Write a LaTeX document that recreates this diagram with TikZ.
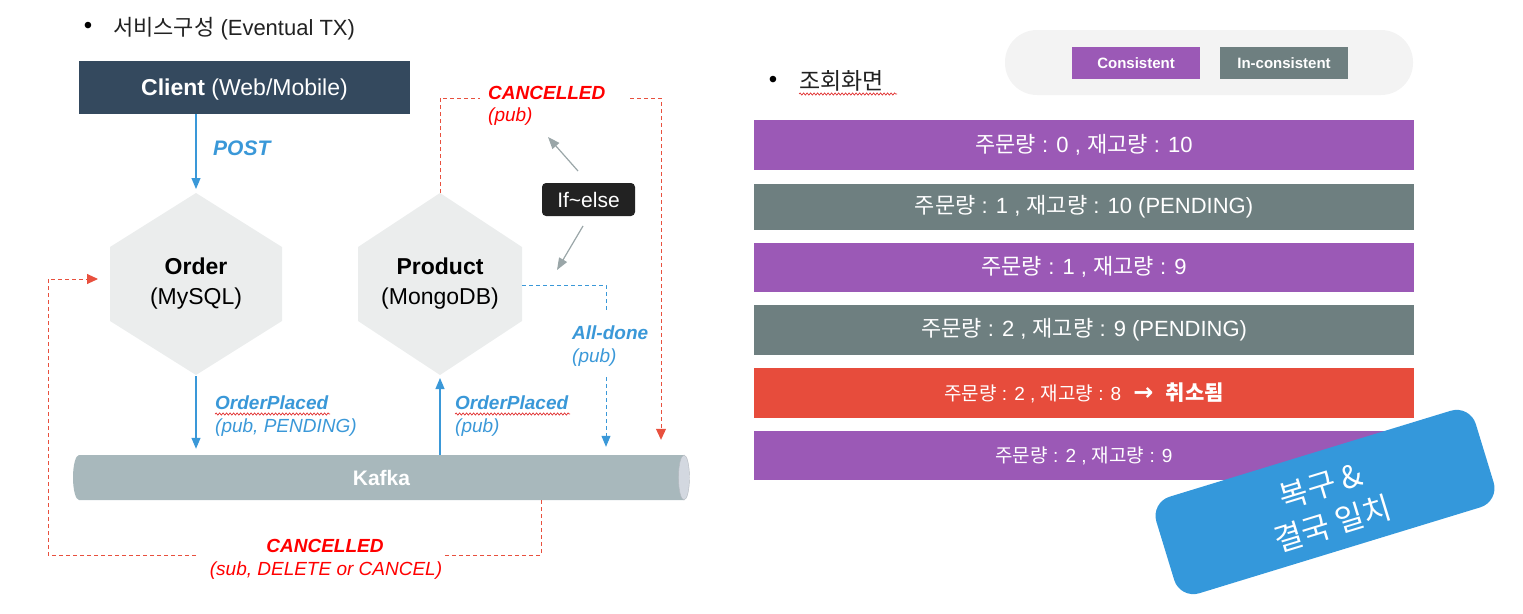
\documentclass[tikz,border=0pt]{standalone}
\usepackage{fontspec}
\setmainfont{Liberation Sans}
\newfontfamily\kr{Noto Sans CJK KR}
\newfontfamily\dv{DejaVu Sans}
\usetikzlibrary{arrows.meta,decorations.pathmorphing,calc}
\newcommand\fsz[2]{\fontsize{#1}{#2}\selectfont}
\definecolor{clientc}{HTML}{34495E}
\definecolor{hexc}{HTML}{EBEDED}
\definecolor{kafkac}{HTML}{A8B8BC}
\definecolor{capc}{HTML}{D3D8E0}
\definecolor{lineblue}{HTML}{3A98D8}
\definecolor{dashred}{HTML}{E8503E}
\definecolor{labred}{HTML}{FF0000}
\definecolor{arrgray}{HTML}{9AA6A8}
\definecolor{darkbox}{HTML}{222222}
\definecolor{purp}{HTML}{9B59B6}
\definecolor{slate}{HTML}{6E7F80}
\definecolor{rowred}{HTML}{E74C3C}
\definecolor{boxblue}{HTML}{3498DB}
\definecolor{pillc}{HTML}{F3F3F3}
\definecolor{wavy}{HTML}{E03030}
\begin{document}
\begin{tikzpicture}[x=1pt,y=-1pt,
  bluearr/.style={draw=lineblue, line width=1.2pt, -{Triangle[width=9pt,length=11pt]}},
  bluedash/.style={draw=lineblue, line width=1pt, dash pattern=on 4pt off 3pt},
  reddash/.style={draw=dashred, line width=1pt, dash pattern=on 4pt off 3pt},
  redtip/.style={-{Triangle[width=10pt,length=11pt]}},
  grayarr/.style={draw=arrgray, line width=1.2pt, -{Triangle[width=9pt,length=12pt]}},
  hexshape/.style={fill=hexc},
  hextext/.style={font=\fsz{23}{30}, align=center},
  bluelab/.style={text=lineblue, font=\fsz{19}{23}, anchor=base west, inner sep=0},
  redlab/.style={text=labred, font=\fsz{19}{23}, inner sep=0},
  rowbox/.style={minimum width=660pt, inner sep=0, text=white, font=\fsz{22}{26}},
  legbox/.style={minimum width=128pt, minimum height=32pt, inner sep=0, text=white, font=\bfseries\fsz{15}{18}},
  wave/.style={draw=wavy, line width=0.7pt, decorate, decoration={snake, amplitude=1.1pt, segment length=3.5pt}}
]
\useasboundingbox (0,0) rectangle (1523,613);

% ---------- titles
\node[font=\fsz{24}{28}, inner sep=0] (bul1) at (88,28) {•};
\node[anchor=west, inner sep=0, font=\fsz{22}{26}, text=darkbox] (title1) at (113,29) {{\kr 서비스구성} (Eventual TX)};
\node[font=\fsz{24}{28}, inner sep=0] (bul2) at (773,82) {•};
\node[anchor=west, inner sep=0, font=\kr\fsz{23}{27}, text=darkbox] (title2) at (799,81) {조회화면};
\draw[wave] (799,94) -- (897,94);

% ---------- client
\node[fill=clientc, minimum width=331pt, minimum height=53pt, inner sep=0] (client) at (244.5,87.5) {};
\node[text=white, font=\fsz{23}{28}, inner sep=0] (clienttxt) at ($(client)+(0,2.5)$) {\textbf{Client} (Web/Mobile)};

% ---------- hexagons
\coordinate (ordtop) at (196,193);
\coordinate (ordbot) at (196,375);
\coordinate (ordleft) at (110,279);
\fill[hexshape] (ordtop) -- (282,247) -- (282,321) -- (ordbot) -- (110,321) -- (110,247) -- cycle;
\node[hextext] (order) at (196,284) {\textbf{Order}\\(MySQL)};

\coordinate (prodtop) at (440,193);
\coordinate (prodbot) at (440,375);
\coordinate (prodright) at (522,285);
\fill[hexshape] (prodtop) -- (522,247) -- (522,321) -- (prodbot) -- (358,321) -- (358,247) -- cycle;
\node[hextext] (product) at (440,284) {\textbf{Product}\\(MongoDB)};

% ---------- kafka
\fill[kafkac] (684,455) -- (79,455) arc[start angle=270, end angle=90, x radius=6, y radius=22.5] -- (684,500) -- cycle;
\filldraw[fill=capc, draw=capc!85!black, line width=0.4pt] (684,477.5) ellipse[x radius=5.5, y radius=22.5];
\node[minimum width=617pt, minimum height=45pt, inner sep=0, text=white, font=\bfseries\fsz{21}{25}] (kafka) at (381.5,477.5) {Kafka};

% ---------- blue arrows
\draw[bluearr, shorten >=4pt] (ordtop |- client.south) -- (ordtop);
\node[text=lineblue, font=\bfseries\itshape\fsz{21}{25}, anchor=west, inner sep=0] (post) at (213,148) {POST};

\draw[bluearr, shorten <=1pt, shorten >=6pt] (ordbot) -- (ordbot |- kafka.north);
\node[bluelab, font=\bfseries\itshape\fsz{19}{23}] (op1) at (215,409) {OrderPlaced};
\node[bluelab, font=\itshape\fsz{19}{23}] (op1b) at (215,432) {(pub, PENDING)};
\draw[wave] (215,414) -- (330,414);

\draw[bluearr, shorten >=3pt] (prodbot |- kafka.north) -- (prodbot);
\node[bluelab, font=\bfseries\itshape\fsz{19}{23}] (op2) at (455,409) {OrderPlaced};
\node[bluelab, font=\itshape\fsz{19}{23}] (op2b) at (455,432) {(pub)};
\draw[wave] (455,414) -- (570,414);

% all-done
\coordinate (ad1) at (606,310);
\coordinate (ad2) at (606,377);
\draw[bluedash] (prodright) -| (ad1);
\draw[bluedash, -{Triangle[width=9pt,length=11pt]}, shorten >=8pt] (ad2) -- (ad2 |- kafka.north);
\node[bluelab, font=\bfseries\itshape\fsz{19}{23}] (alldone) at (572,339) {All-done};
\node[bluelab, font=\itshape\fsz{19}{23}] (alldoneb) at (572,362) {(pub)};

% ---------- red top
\coordinate (ct1) at (480,98);
\coordinate (ct2) at (630,98);
\coordinate (ct3) at (661,98);
\draw[reddash] (prodtop) |- (ct1);
\draw[reddash, redtip, shorten >=15pt] (ct2) -- (ct3) -- (ct3 |- kafka.north);
\node[redlab, font=\bfseries\itshape\fsz{19}{23}, anchor=base west] (cancel1) at (488,99) {CANCELLED};
\node[redlab, font=\itshape\fsz{19}{23}, anchor=base west] (cancel1b) at (488,121) {(pub)};

% ---------- red bottom
\coordinate (cb0) at (541,500);
\coordinate (cb1) at (445,555);
\coordinate (cb2) at (196,555);
\coordinate (cb3) at (48,555);
\draw[reddash] (cb0) |- (cb1);
\draw[reddash, redtip, shorten >=12pt] (cb2) -- (cb3) |- (ordleft);
\node[redlab, font=\bfseries\itshape\fsz{19}{23}, anchor=base] (cancel2) at (325,552) {CANCELLED};
\node[redlab, font=\itshape\fsz{19}{23}, anchor=base] (cancel2b) at (326,575) {(sub, DELETE or CANCEL)};

% ---------- if-else
\node[fill=darkbox, rounded corners=4pt, text=white, minimum width=93pt, minimum height=33pt, inner sep=0, font=\fsz{21}{25}] (ifelse) at (588.5,199.5) {If\char"7E else};
\coordinate (g1s) at (578,171);
\coordinate (g1e) at (548,137);
\coordinate (g2s) at (583,226);
\coordinate (g2e) at (557,270);
\draw[grayarr] (g1s) -- (g1e);
\draw[grayarr] (g2s) -- (g2e);

% ---------- legend
\node[fill=pillc, rounded corners=32pt, minimum width=408pt, minimum height=65pt] (legend) at (1209,62.5) {};
\node[legbox, fill=purp] (lcons) at (1136,63) {Consistent};
\node[legbox, fill=slate] (lincons) at (1284,63) {In-consistent};

% ---------- rows
\node[rowbox, fill=purp, minimum height=50pt] (r1) at (1084,144.5) {{\kr 주문량} : 0 , {\kr 재고량} : 10};
\node[rowbox, fill=slate, minimum height=46pt] (r2) at (1084,206.5) {{\kr 주문량} : 1 , {\kr 재고량} : 10 (PENDING)};
\node[rowbox, fill=purp, minimum height=49pt] (r3) at (1084,267) {{\kr 주문량} : 1 , {\kr 재고량} : 9};
\node[rowbox, fill=slate, minimum height=50pt] (r4) at (1084,330) {{\kr 주문량} : 2 , {\kr 재고량} : 9 (PENDING)};
\node[rowbox, fill=rowred, minimum height=50pt] (r5) at (1084,393) {{\fsz{19}{23}{\kr 주문량} : 2 , {\kr 재고량} : 8}\ \ {\dv\bfseries\fsz{24}{26}→}\ \ {\kr\bfseries\fsz{21}{25}취소됨}};
\node[rowbox, fill=purp, minimum height=49pt, font=\fsz{19}{23}] (r6) at (1084,455.5) {{\kr 주문량} : 2 , {\kr 재고량} : 9};

% ---------- recovery box
\node[fill=boxblue, rounded corners=20pt, rotate=17, minimum width=334pt, minimum height=101pt, inner sep=0] (recover) at (1325,502) {};
\node[rotate=17, inner sep=0, text=white, align=center, font=\kr\fsz{31}{40}] (recovertxt) at (1327,505) {복구 \&\\결국 일치};
\end{tikzpicture}
\end{document}
